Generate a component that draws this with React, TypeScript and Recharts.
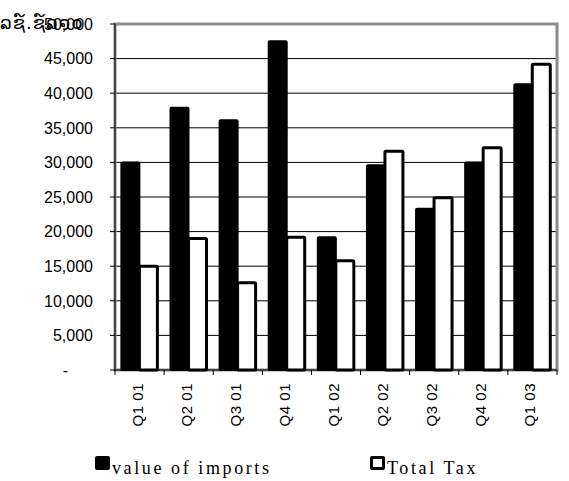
import React from 'react';
import { BarChart, Bar, XAxis, YAxis, CartesianGrid, Legend, ReferenceArea } from 'recharts';

const quarters = ['Q1 01', 'Q2 01', 'Q3 01', 'Q4 01', 'Q1 02', 'Q2 02', 'Q3 02', 'Q4 02', 'Q1 03'];
const valueOfImports = [30000, 37900, 36100, 47500, 19200, 29600, 23300, 30000, 41300];
const totalTax = [15000, 19000, 12600, 19200, 15800, 31600, 24900, 32100, 44200];
const yTicks = [0, 5000, 10000, 15000, 20000, 25000, 30000, 35000, 40000, 45000, 50000];
const seriesKeys = ['imports', 'tax'];
const unitLabel = 'ລຊ໌.ຊ໌ລ໑໐';

const chartData = quarters.map((q, i) => ({
  q,
  imports: valueOfImports[i],
  tax: totalTax[i],
}));

const sans = '"Liberation Sans", Arial, sans-serif';
const serif = '"Liberation Serif", "Times New Roman", serif';

function AmountTick({ x, y, payload }: any) {
  const v = payload.value;
  const zero = v === 0;
  return (
    <text
      x={zero ? x - 42 : x - 17}
      y={y}
      dy="0.36em"
      textAnchor="end"
      fontFamily={sans}
      fontSize={16}
      fill="#000"
    >
      {zero ? '-' : v.toLocaleString('en-US')}
    </text>
  );
}

function QuarterTick({ x, y, payload, index }: any) {
  const half = payload.offset ?? 0;
  return (
    <g>
      <line x1={x - half} x2={x - half} y1={y - 5} y2={y} stroke="#000" />
      {index === quarters.length - 1 && (
        <line x1={x + half} x2={x + half} y1={y - 5} y2={y} stroke="#000" />
      )}
      <text
        transform={`translate(${x + 3},${y + 8}) rotate(-90)`}
        textAnchor="end"
        fontFamily={sans}
        fontSize={15}
        letterSpacing={0.5}
        fill="#000"
      >
        {payload.value}
      </text>
    </g>
  );
}

function LegendBox({ payload }: any) {
  const spots = [95, 370];
  const items = [...(payload || [])].sort(
    (a: any, b: any) => seriesKeys.indexOf(a.dataKey) - seriesKeys.indexOf(b.dataKey)
  );
  return (
    <div style={{ position: 'relative', height: 30 }}>
      {items.map((item: any, i: number) => (
        <div
          key={item.value}
          style={{ position: 'absolute', left: spots[i], top: 0, display: 'flex', alignItems: 'flex-end' }}
        >
          <span
            style={{
              display: 'inline-block',
              width: i === 0 ? 15 : 9,
              height: i === 0 ? 14 : 8,
              background: i === 0 ? '#000' : '#fff',
              border: i === 0 ? 'none' : '3px solid #000',
              borderRadius: 2,
              marginBottom: 9,
            }}
          />
          <span
            style={{
              fontFamily: serif,
              fontSize: 18,
              letterSpacing: 2.6,
              color: '#000',
              marginLeft: 2,
            }}
          >
            {item.value}
          </span>
        </div>
      ))}
    </div>
  );
}

export default function App() {
  return (
    <div style={{ position: 'absolute', left: 0, top: 0, width: 569, height: 481, background: '#fff' }}>
      <BarChart
        width={569}
        height={481}
        data={chartData}
        margin={{ top: 24, right: 12, left: 0, bottom: 0 }}
        barCategoryGap="13%"
        barGap={0}
      >
        <CartesianGrid vertical={false} stroke="#000" strokeWidth={1} />
        <ReferenceArea y1={0} y2={50000} fill="none" stroke="#8c8c8c" strokeWidth={3} />
        <YAxis
          width={115}
          domain={[0, 50000]}
          ticks={yTicks}
          interval={0}
          tickSize={5}
          tickMargin={0}
          axisLine={{ stroke: '#000' }}
          tickLine={{ stroke: '#000' }}
          tick={<AmountTick />}
        />
        <XAxis
          dataKey="q"
          height={111}
          interval={0}
          tickSize={5}
          tickMargin={0}
          tickLine={false}
          axisLine={{ stroke: '#000' }}
          tick={<QuarterTick />}
        />
        <Legend
          verticalAlign="middle"
          align="center"
          content={<LegendBox />}
          wrapperStyle={{ top: 456, left: 0, width: 569 }}
        />
        <Bar dataKey="imports" name="value of imports" fill="#000" stroke="#000" strokeWidth={2} radius={1} isAnimationActive={false} />
        <Bar dataKey="tax" name="Total Tax" fill="#fff" stroke="#000" strokeWidth={3} radius={1} isAnimationActive={false} />
      </BarChart>
      <div
        style={{
          position: 'absolute',
          left: 0,
          top: 12,
          fontFamily: '"DejaVu Sans", sans-serif',
          fontSize: 18,
          letterSpacing: 1,
          color: '#000',
          whiteSpace: 'nowrap',
          pointerEvents: 'none',
        }}
      >
        {unitLabel}
      </div>
    </div>
  );
}
